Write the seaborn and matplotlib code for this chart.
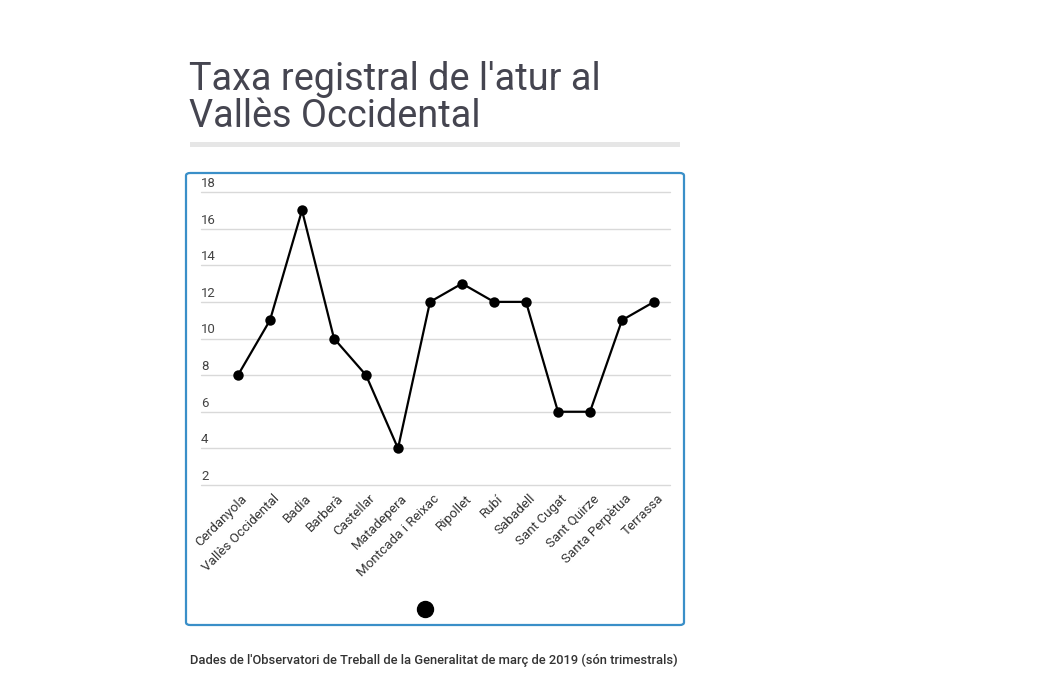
import matplotlib
matplotlib.use("Agg")
import matplotlib.pyplot as plt
import seaborn as sns
import pandas as pd
from matplotlib.patches import FancyBboxPatch, Rectangle
from matplotlib.lines import Line2D
import matplotlib.transforms as mtransforms

municipis = ["Cerdanyola", "Vallès Occidental", "Badia", "Barberà", "Castellar",
             "Matadepera", "Montcada i Reixac", "Ripollet", "Rubí", "Sabadell",
             "Sant Cugat", "Sant Quirze", "Santa Perpètua", "Terrassa"]
taxa = [8, 11, 17, 10, 8, 4, 12, 13, 12, 12, 6, 6, 11, 12]
y_ticks = [2, 4, 6, 8, 10, 12, 14, 16, 18]

title_lines = ["Taxa registral de l'atur al", "Vallès Occidental"]
footer = "Dades de l'Observatori de Treball de la Generalitat de març de 2019 (són trimestrals)"

sns.set_theme(style="white")
plt.rcParams['font.family'] = ['Roboto', 'DejaVu Sans']

W, H = 1052, 679
fig = plt.figure(figsize=(W / 100, H / 100), dpi=100)

def fx(px):
    return px / W

def fy(py):
    return 1 - py / H

# chart box
box = FancyBboxPatch((fx(186), fy(625)), fx(684) - fx(186), fy(173) - fy(625),
                     boxstyle="round,pad=0,rounding_size=0.004",
                     transform=fig.transFigure, facecolor="white",
                     edgecolor="#3a8fc8", linewidth=1.6, zorder=0)
fig.add_artist(box)

# title and rule
for line, base in zip(title_lines, [90, 127]):
    fig.text(fx(189), fy(base), line, ha="left", va="baseline", fontsize=27.3,
             color="#454550")
fig.add_artist(Rectangle((fx(190), fy(147)), fx(680) - fx(190), fy(142) - fy(147),
                         transform=fig.transFigure, facecolor="#e6e6e6",
                         edgecolor="none"))

# axes
left, right, top, bottom = 201, 670, 192, 485
ax = fig.add_axes([fx(left), fy(bottom), fx(right) - fx(left), fy(top) - fy(bottom)])
ax.set_facecolor("none")

df = pd.DataFrame({"pos": list(range(len(municipis))), "taxa": taxa})
sns.lineplot(data=df, x="pos", y="taxa", ax=ax, color="black", linewidth=1.6,
             marker="o", markersize=7.5, markeredgewidth=0, markerfacecolor="black")

first_px, step_px = 238, 32
ax.set_xlim((left - first_px) / step_px, (right - first_px) / step_px)
ax.set_ylim(2, 18)

for sp in ax.spines.values():
    sp.set_visible(False)
ax.set_yticks(y_ticks)
ax.set_yticklabels([])
ax.tick_params(axis="y", length=0)
ax.yaxis.grid(True, color="#d9d9d9", linewidth=1)
for gl in ax.get_ygridlines():
    gl.set_clip_on(False)
ax.xaxis.grid(False)
ax.set_xlabel("")
ax.set_ylabel("")

trans = mtransforms.blended_transform_factory(ax.transAxes, ax.transData)
shift = mtransforms.ScaledTranslation(0, 1.5 / 72, fig.dpi_scale_trans)
for v in y_ticks:
    ax.text(0.0, v, f"{v}", transform=trans + shift, ha="left", va="bottom",
            fontsize=9.5, color="#444444")

ax.set_xticks(range(len(municipis)))
ax.set_xticklabels(municipis, rotation=45, ha="right", va="top",
                   rotation_mode="anchor", fontsize=9.6, color="#333333")
ax.tick_params(axis="x", length=0, pad=5)
for lbl in ax.get_xticklabels():
    lbl.set_transform(lbl.get_transform() + mtransforms.ScaledTranslation(2 / 72, 0, fig.dpi_scale_trans))

# legend dot
fig.add_artist(Line2D([fx(425)], [fy(609)], marker="o", markersize=11.5,
                      color="black", transform=fig.transFigure, linestyle="none"))

# footer
fig.text(fx(190), fy(660), footer, ha="left", va="center", fontsize=9.3,
         color="#333333", fontweight="medium")

fig.savefig("out.png", dpi=100)
